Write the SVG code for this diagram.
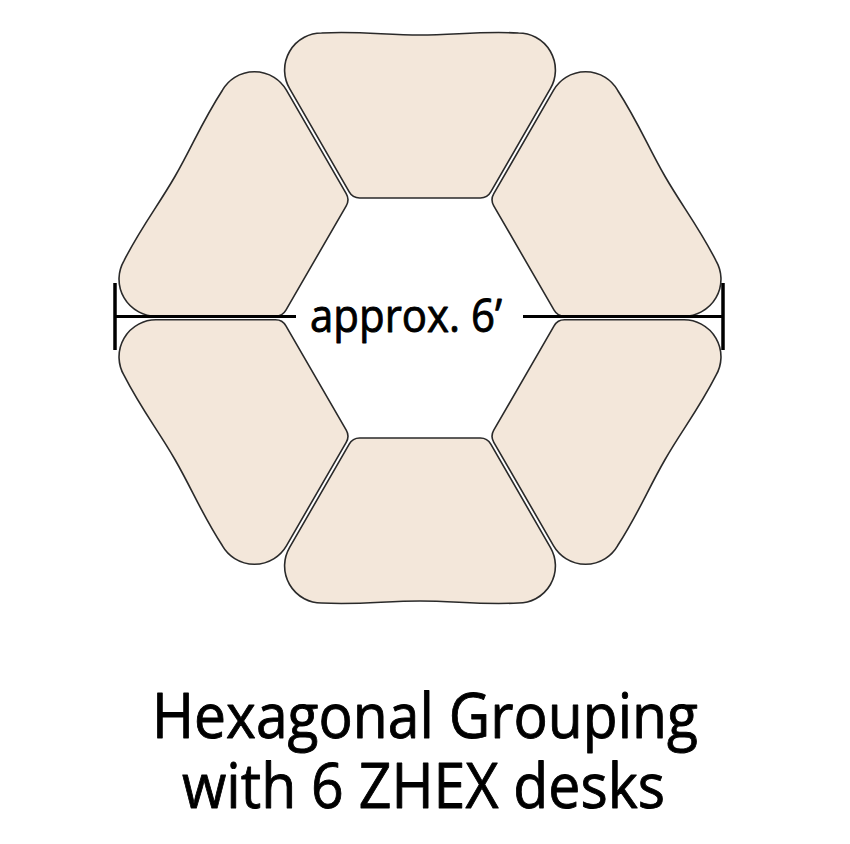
<svg xmlns="http://www.w3.org/2000/svg" xmlns:xlink="http://www.w3.org/1999/xlink" width="850" height="844" viewBox="0 0 850 844">
<style>
.desk{fill:#f3e7da;stroke:#2a2a2a;stroke-width:1.6;stroke-linejoin:round}
.dim{stroke:#000;stroke-width:3;fill:none}
.tick{stroke:#000;stroke-width:3.5;fill:none}
.lbl{font-family:"Open Sans","Liberation Sans",sans-serif;fill:#000;stroke:#000;stroke-width:0.9;stroke-linejoin:round;text-anchor:middle;font-weight:400}
</style>
<defs>
<path id="deskShape" d="M -98.5 -285 C -60 -287 -35 -283 0 -283 C 35 -283 60 -287 98.5 -285 A 37 37 0 0 1 130.5 -229.6 L 70.8 -126.1 A 12 12 0 0 1 60.3 -120 L -60.3 -120 A 12 12 0 0 1 -70.8 -126.1 L -130.5 -229.6 A 37 37 0 0 1 -98.5 -285 Z"/>
</defs>
<rect width="850" height="844" fill="#ffffff"/>
<g id="desk-top" transform="translate(420,318)"><use href="#deskShape" xlink:href="#deskShape" class="desk"/></g>
<g id="desk-upper-right" transform="translate(420,318) rotate(60)"><use href="#deskShape" xlink:href="#deskShape" class="desk"/></g>
<g id="desk-lower-right" transform="translate(420,318) rotate(120)"><use href="#deskShape" xlink:href="#deskShape" class="desk"/></g>
<g id="desk-bottom" transform="translate(420,318) rotate(180)"><use href="#deskShape" xlink:href="#deskShape" class="desk"/></g>
<g id="desk-lower-left" transform="translate(420,318) rotate(240)"><use href="#deskShape" xlink:href="#deskShape" class="desk"/></g>
<g id="desk-upper-left" transform="translate(420,318) rotate(300)"><use href="#deskShape" xlink:href="#deskShape" class="desk"/></g>
<g id="connectors">
<line class="dim" x1="115" y1="316.5" x2="296" y2="316.5"/>
<line class="dim" x1="523" y1="316.5" x2="723" y2="316.5"/>
<line class="tick" x1="115" y1="283" x2="115" y2="350"/>
<line class="tick" x1="723" y1="283" x2="723" y2="350"/>
</g>
<g id="dimension-label">
<text class="lbl" x="406" y="332" font-size="46" textLength="192" lengthAdjust="spacingAndGlyphs">approx. 6’</text>
</g>
<g id="title">
<text class="lbl" x="425" y="738" font-size="63" textLength="546" lengthAdjust="spacingAndGlyphs">Hexagonal Grouping</text>
<text class="lbl" x="423.5" y="808" font-size="63" textLength="483" lengthAdjust="spacingAndGlyphs">with 6 ZHEX desks</text>
</g>
</svg>
